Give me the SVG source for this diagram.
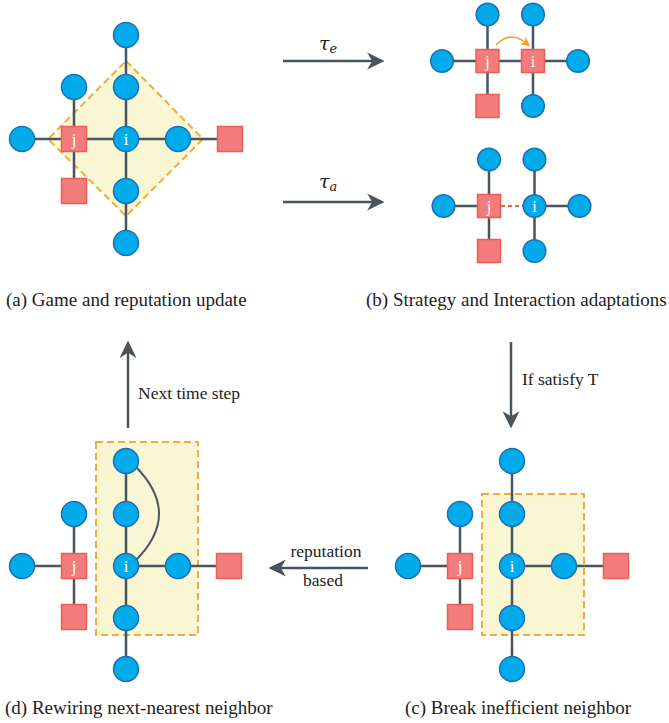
<svg xmlns="http://www.w3.org/2000/svg" width="669" height="723" viewBox="0 0 669 723">
  <defs>
    <marker id="head" markerUnits="userSpaceOnUse" markerWidth="18" markerHeight="18" viewBox="0 0 16 16" refX="7" refY="8" orient="auto">
      <path d="M0,0.5 L15.5,8 L0,15.5 L4.5,8 Z" fill="#4a545e"/>
    </marker>
    <marker id="head-orange" markerUnits="userSpaceOnUse" markerWidth="10" markerHeight="10" viewBox="0 0 10 10" refX="4" refY="5" orient="auto">
      <path d="M0,0.5 L9.5,5 L0,9.5 L2.5,5 Z" fill="#f5a024"/>
    </marker>
  </defs>
  <style>
    .edge { stroke: #4a545e; stroke-width: 2.5; fill: none; }
    .arrow { stroke: #4a545e; stroke-width: 2.5; fill: none; marker-end: url(#head); }
    .agent { fill: #00abeb; stroke: #1b6fb3; stroke-width: 1.5; }
    .defector { fill: #f27c7c; stroke: #ea5f55; stroke-width: 1.5; }
    .zone { fill: #f9f6d4; stroke: #f5a93c; stroke-width: 2; stroke-dasharray: 7 4; }
    .tag { font-family: "Liberation Serif", "Times New Roman", serif; font-size: 17px; fill: #ffffff; text-anchor: middle; }
    .caption { font-family: "Liberation Serif", "Times New Roman", serif; font-size: 19px; fill: #222222; }
    .note { font-family: "Liberation Serif", "Times New Roman", serif; font-size: 17.5px; fill: #222222; }
    .math { font-family: "DejaVu Serif", "Liberation Serif", serif; font-style: italic; fill: #222222; }
  </style>
  <rect width="669" height="723" fill="#ffffff"/>

  <!-- neighbourhood highlights -->
  <g id="zones">
    <polygon class="zone" points="126,61 203,139 126,216 48,139"/>
    <rect class="zone" x="482" y="494" width="102" height="141"/>
    <rect class="zone" x="96" y="442" width="102" height="193"/>
  </g>

  <!-- links between players and process arrows -->
  <g id="connectors">
    <!-- panel a -->
    <path class="edge" d="M126,35 V243 M22,139 H230 M74,87 V191"/>
    <!-- panel b, strategy update -->
    <path class="edge" d="M442,61 H578 M487.5,14.5 V106 M533,14.5 V106"/>
    <path d="M496,45 Q510,30 526,43" fill="none" stroke="#f5a024" stroke-width="1.6" marker-end="url(#head-orange)"/>
    <!-- panel b, interaction update -->
    <path class="edge" d="M443.5,206 H489 M534.5,206 H579.5 M489,159.5 V251 M534.5,159.5 V251"/>
    <path d="M501,206 H523" fill="none" stroke="#f0643c" stroke-width="2" stroke-dasharray="4 3"/>
    <!-- panel c -->
    <path class="edge" d="M512,462 V670 M408,566 H460 M512,566 H616 M460,514 V618"/>
    <!-- panel d -->
    <path class="edge" d="M126,462 V670 M22,566 H74 M126,566 H230 M74,514 V618"/>
    <path d="M135,466 Q183,514 135,561" fill="none" stroke="#4a545e" stroke-width="2"/>
    <!-- process arrows -->
    <path class="arrow" d="M283,61 H375"/>
    <path class="arrow" d="M283,202 H375"/>
    <path class="arrow" d="M511,342 V419"/>
    <path class="arrow" d="M368,568 H278"/>
    <path class="arrow" d="M128,428 V350"/>
  </g>

  <!-- panel a nodes -->
  <g id="a-top"><circle class="agent" cx="126" cy="35" r="12.5"/></g>
  <g id="a-up"><circle class="agent" cx="126" cy="87" r="12.5"/></g>
  <g id="a-i"><circle class="agent" cx="126" cy="139" r="12.5"/><text class="tag" x="126" y="145">i</text></g>
  <g id="a-right"><circle class="agent" cx="178" cy="139" r="12.5"/></g>
  <g id="a-far-right"><rect class="defector" x="217.5" y="126.5" width="25" height="25"/></g>
  <g id="a-down"><circle class="agent" cx="126" cy="191" r="12.5"/></g>
  <g id="a-bottom"><circle class="agent" cx="126" cy="243" r="12.5"/></g>
  <g id="a-j"><rect class="defector" x="61.5" y="126.5" width="25" height="25"/><text class="tag" x="74" y="145">j</text></g>
  <g id="a-j-up"><circle class="agent" cx="74" cy="87" r="12.5"/></g>
  <g id="a-j-left"><circle class="agent" cx="22" cy="139" r="12.5"/></g>
  <g id="a-j-down"><rect class="defector" x="61.5" y="178.5" width="25" height="25"/></g>

  <!-- panel b (strategy) nodes -->
  <g id="b1-j-up"><circle class="agent" cx="487.5" cy="14.5" r="11.3"/></g>
  <g id="b1-i-up"><circle class="agent" cx="533" cy="14.5" r="11.3"/></g>
  <g id="b1-left"><circle class="agent" cx="442" cy="61" r="11.3"/></g>
  <g id="b1-j"><rect class="defector" x="476" y="49.5" width="23" height="23"/><text class="tag" x="487.5" y="66.5" style="font-size:16px">j</text></g>
  <g id="b1-i"><rect class="defector" x="521.5" y="49.5" width="23" height="23"/><text class="tag" x="533" y="66.5" style="font-size:16px">i</text></g>
  <g id="b1-right"><circle class="agent" cx="578" cy="61" r="11.3"/></g>
  <g id="b1-j-down"><rect class="defector" x="476" y="94.5" width="23" height="23"/></g>
  <g id="b1-i-down"><circle class="agent" cx="533" cy="106" r="11.3"/></g>

  <!-- panel b (interaction) nodes -->
  <g id="b2-j-up"><circle class="agent" cx="489" cy="159.5" r="11.3"/></g>
  <g id="b2-i-up"><circle class="agent" cx="534.5" cy="159.5" r="11.3"/></g>
  <g id="b2-left"><circle class="agent" cx="443.5" cy="206" r="11.3"/></g>
  <g id="b2-j"><rect class="defector" x="477.5" y="194.5" width="23" height="23"/><text class="tag" x="489" y="211.5" style="font-size:16px">j</text></g>
  <g id="b2-i"><circle class="agent" cx="534.5" cy="206" r="11.3"/><text class="tag" x="534.5" y="211.5" style="font-size:16px">i</text></g>
  <g id="b2-right"><circle class="agent" cx="579.5" cy="206" r="11.3"/></g>
  <g id="b2-j-down"><rect class="defector" x="477.5" y="239.5" width="23" height="23"/></g>
  <g id="b2-i-down"><circle class="agent" cx="534.5" cy="251" r="11.3"/></g>

  <!-- panel c nodes -->
  <g id="c-top"><circle class="agent" cx="512" cy="461" r="12.5"/></g>
  <g id="c-up"><circle class="agent" cx="512" cy="514" r="12.5"/></g>
  <g id="c-i"><circle class="agent" cx="512" cy="566" r="12.5"/><text class="tag" x="512" y="572">i</text></g>
  <g id="c-right"><circle class="agent" cx="564" cy="566" r="12.5"/></g>
  <g id="c-far-right"><rect class="defector" x="603.5" y="553.5" width="25" height="25"/></g>
  <g id="c-down"><circle class="agent" cx="512" cy="618" r="12.5"/></g>
  <g id="c-bottom"><circle class="agent" cx="512" cy="669" r="12.5"/></g>
  <g id="c-j"><rect class="defector" x="447.5" y="553.5" width="25" height="25"/><text class="tag" x="460" y="572">j</text></g>
  <g id="c-j-up"><circle class="agent" cx="460" cy="514" r="12.5"/></g>
  <g id="c-j-left"><circle class="agent" cx="408" cy="566" r="12.5"/></g>
  <g id="c-j-down"><rect class="defector" x="447.5" y="604.5" width="25" height="25"/></g>

  <!-- panel d nodes -->
  <g id="d-top"><circle class="agent" cx="126" cy="461" r="12.5"/></g>
  <g id="d-up"><circle class="agent" cx="126" cy="514" r="12.5"/></g>
  <g id="d-i"><circle class="agent" cx="126" cy="566" r="12.5"/><text class="tag" x="126" y="572">i</text></g>
  <g id="d-right"><circle class="agent" cx="178" cy="566" r="12.5"/></g>
  <g id="d-far-right"><rect class="defector" x="216.5" y="553.5" width="25" height="25"/></g>
  <g id="d-down"><circle class="agent" cx="126" cy="618" r="12.5"/></g>
  <g id="d-bottom"><circle class="agent" cx="126" cy="669" r="12.5"/></g>
  <g id="d-j"><rect class="defector" x="61.5" y="553.5" width="25" height="25"/><text class="tag" x="74" y="572">j</text></g>
  <g id="d-j-up"><circle class="agent" cx="74" cy="514" r="12.5"/></g>
  <g id="d-j-left"><circle class="agent" cx="22" cy="566" r="12.5"/></g>
  <g id="d-j-down"><rect class="defector" x="61.5" y="604.5" width="25" height="25"/></g>

  <!-- arrow labels -->
  <g id="labels">
    <text class="math" x="319" y="50" font-size="19">τ<tspan font-size="13" dy="3">e</tspan></text>
    <text class="math" x="319" y="188" font-size="19">τ<tspan font-size="13" dy="3">a</tspan></text>
    <text class="note" x="522" y="385">If satisfy T</text>
    <text class="note" x="138" y="399">Next time step</text>
    <text class="note" x="326" y="557" text-anchor="middle">reputation</text>
    <text class="note" x="323" y="586" text-anchor="middle">based</text>
  </g>

  <!-- panel captions -->
  <g id="captions">
    <text class="caption" x="6" y="306">(a) Game and reputation update</text>
    <text class="caption" x="366" y="306">(b) Strategy and Interaction adaptations</text>
    <text class="caption" x="5" y="714">(d) Rewiring next-nearest neighbor</text>
    <text class="caption" x="405" y="714">(c) Break inefficient neighbor</text>
  </g>
</svg>
